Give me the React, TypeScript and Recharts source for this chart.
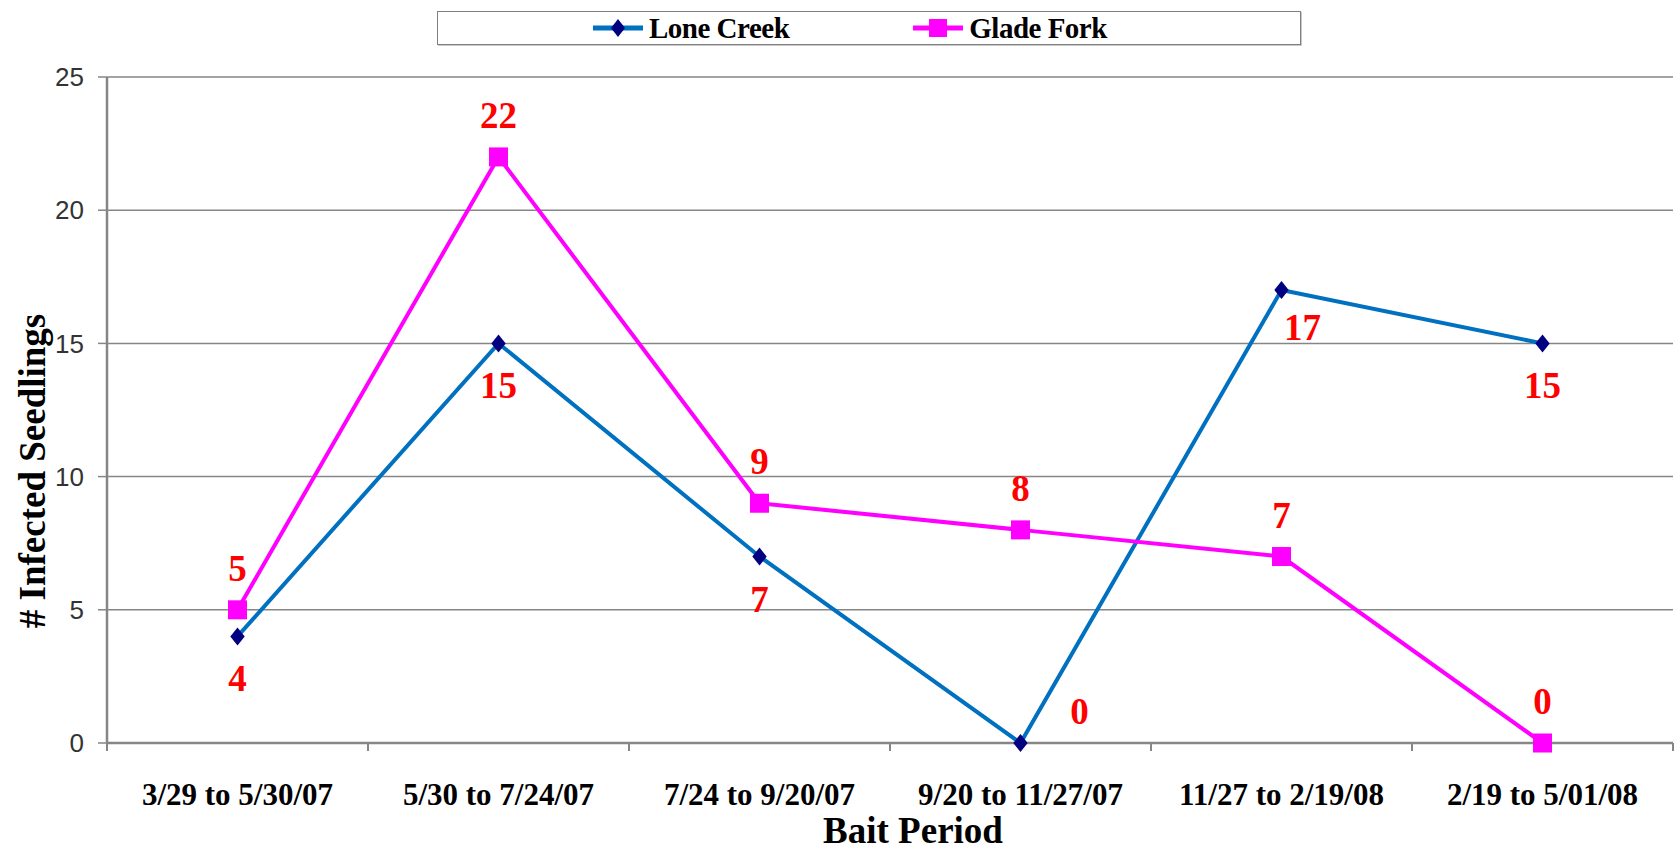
import { LineChart, Line, XAxis, YAxis, CartesianGrid, Legend, LabelList } from 'recharts';

const periods = [
  '3/29 to 5/30/07',
  '5/30 to 7/24/07',
  '7/24 to 9/20/07',
  '9/20 to 11/27/07',
  '11/27 to 2/19/08',
  '2/19 to 5/01/08',
];
const loneCreek = [4, 15, 7, 0, 17, 15];
const gladeFork = [5, 22, 9, 8, 7, 0];
const yTicks = [0, 5, 10, 15, 20, 25];

const data = periods.map((period, i) => ({
  period,
  lone: loneCreek[i],
  glade: gladeFork[i],
}));

const SERIF = '"Liberation Serif", "Times New Roman", serif';
const SANS = '"Liberation Sans", Arial, sans-serif';
// half of one category band: (plot width 1566) / 6 / 2
const HALF_BAND = 130.5;
const AXIS_GREY = '#868686';

const Diamond = (props: any) => {
  const { cx, cy } = props;
  if (cx == null || cy == null) return null;
  const r = 9;
  return (
    <path
      d={`M${cx},${cy - r} L${cx + r * 0.8},${cy} L${cx},${cy + r} L${cx - r * 0.8},${cy} Z`}
      fill="#000080"
    />
  );
};

const Square = (props: any) => {
  const { cx, cy } = props;
  if (cx == null || cy == null) return null;
  const r = 9.5;
  return <rect x={cx - r} y={cy - r} width={r * 2} height={r * 2} fill="#FF00FF" />;
};

const PeriodTick = (props: any) => {
  const { x, y, payload, index, visibleTicksCount } = props;
  const axisY = y - 8;
  return (
    <g>
      <line x1={x - HALF_BAND} x2={x - HALF_BAND} y1={axisY} y2={axisY + 8} stroke={AXIS_GREY} strokeWidth={2} />
      {index === visibleTicksCount - 1 && (
        <line x1={x + HALF_BAND} x2={x + HALF_BAND} y1={axisY} y2={axisY + 8} stroke={AXIS_GREY} strokeWidth={2} />
      )}
      <text
        x={x}
        y={y}
        dy={54}
        textAnchor="middle"
        fontFamily={SERIF}
        fontWeight="bold"
        fontSize={31}
        fill="#000"
      >
        {payload.value}
      </text>
    </g>
  );
};

const labelStyle = {
  fontFamily: SERIF,
  fontWeight: 'bold' as const,
  fontSize: 37,
  fill: '#FF0000',
};

const LoneLabel = (props: any) => {
  const { x, y, value, index } = props;
  let dx = 0;
  let dy = 55;
  if (index === 3) {
    dx = 59;
    dy = -19;
  } else if (index === 4) {
    dx = 21;
    dy = 50;
  }
  return (
    <text x={x + dx} y={y + dy} textAnchor="middle" style={labelStyle}>
      {value}
    </text>
  );
};

const GladeLabel = (props: any) => {
  const { x, y, value } = props;
  return (
    <text x={x} y={y - 29} textAnchor="middle" style={labelStyle}>
      {value}
    </text>
  );
};

const seriesOrder = ['lone', 'glade'];

const LegendBox = (props: any) => {
  const payload = [...(props.payload || [])].sort(
    (a: any, b: any) => seriesOrder.indexOf(a.dataKey) - seriesOrder.indexOf(b.dataKey)
  );
  return (
    <div
      style={{
        boxSizing: 'border-box',
        width: 864,
        height: 34,
        border: '1.5px solid #7f7f7f',
        boxShadow: '1px 1px 0 #c8c8c8',
        background: '#fff',
        display: 'flex',
        alignItems: 'center',
        paddingLeft: 155,
        gap: 124,
        fontFamily: SERIF,
        fontWeight: 'bold',
        fontSize: 29,
      }}
    >
      {payload.map((entry: any) => {
        const isLone = entry.dataKey === 'lone';
        return (
          <div key={entry.value} style={{ display: 'flex', alignItems: 'center', gap: 6, lineHeight: '30px' }}>
            <svg width={50} height={22}>
              <line x1={0} x2={50} y1={11} y2={11} stroke={entry.color} strokeWidth={5} />
              {isLone ? (
                <path d="M25,2 L32,11 L25,20 L18,11 Z" fill="#000080" />
              ) : (
                <rect x={16} y={2} width={18} height={18} fill="#FF00FF" />
              )}
            </svg>
            <span style={{ letterSpacing: -0.5 }}>{entry.value}</span>
          </div>
        );
      })}
    </div>
  );
};

export default function App() {
  return (
    <div style={{ position: 'absolute', left: 0, top: 0, background: '#fff' }}>
      <LineChart
        width={1679}
        height={851}
        data={data}
        margin={{ top: 77, right: 6, left: 0, bottom: 0 }}
      >
        <CartesianGrid vertical={false} stroke={AXIS_GREY} strokeWidth={1.5} />
        <XAxis
          dataKey="period"
          height={108}
          interval={0}
          padding={{ left: HALF_BAND, right: HALF_BAND }}
          axisLine={{ stroke: AXIS_GREY, strokeWidth: 2.5 }}
          tickLine={false}
          tick={<PeriodTick />}
          label={{
            content: (p: any) => {
              const vb = p.viewBox || {};
              return (
                <text
                  x={(vb.x || 0) + (vb.width || 0) / 2 + 23}
                  y={843}
                  textAnchor="middle"
                  fontFamily={SERIF}
                  fontWeight="bold"
                  fontSize={37}
                  fill="#000"
                >
                  Bait Period
                </text>
              );
            },
          }}
        />
        <YAxis
          width={107}
          domain={[0, 25]}
          ticks={yTicks}
          interval={0}
          axisLine={{ stroke: AXIS_GREY, strokeWidth: 2.5 }}
          tickLine={{ stroke: AXIS_GREY, strokeWidth: 1.5 }}
          tickSize={9}
          tickMargin={14}
          tick={{ fontFamily: SANS, fontSize: 26, fill: '#333' }}
          label={{
            content: () => (
              <text
                x={45}
                y={471}
                transform="rotate(-90, 45, 471)"
                textAnchor="middle"
                fontFamily={SERIF}
                fontWeight="bold"
                fontSize={37}
                fill="#000"
              >
                # Infected Seedlings
              </text>
            ),
          }}
        />
        <YAxis
          yAxisId="frame"
          orientation="right"
          width={0}
          domain={[0, 25]}
          tick={false}
          tickLine={false}
          axisLine={{ stroke: AXIS_GREY, strokeWidth: 2.5 }}
        />
        <Legend
          layout="horizontal"
          verticalAlign="middle"
          align="center"
          wrapperStyle={{ top: 11, left: 437, width: 864, height: 34 }}
          content={<LegendBox />}
        />
        <Line
          name="Lone Creek"
          dataKey="lone"
          stroke="#0070C0"
          strokeWidth={4}
          dot={<Diamond />}
          activeDot={false}
          isAnimationActive={false}
        >
          <LabelList dataKey="lone" content={<LoneLabel />} />
        </Line>
        <Line
          name="Glade Fork"
          dataKey="glade"
          stroke="#FF00FF"
          strokeWidth={4}
          dot={<Square />}
          activeDot={false}
          isAnimationActive={false}
        >
          <LabelList dataKey="glade" content={<GladeLabel />} />
        </Line>
      </LineChart>
    </div>
  );
}
